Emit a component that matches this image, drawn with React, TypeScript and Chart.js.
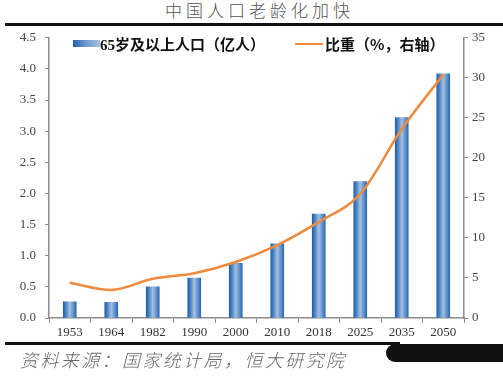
import React, { useEffect, useRef } from "react";
import { Chart, registerables } from "chart.js";

Chart.register(...registerables);

const years = ["1953", "1964", "1982", "1990", "2000", "2010", "2018", "2025", "2035", "2050"];
const population = [0.26, 0.25, 0.5, 0.64, 0.88, 1.19, 1.67, 2.19, 3.22, 3.92];
const share = [4.4, 3.5, 4.9, 5.6, 7.0, 9.1, 12.0, 15.5, 23.6, 30.4];
const title = "中国人口老龄化加快";
const barLabel = "65岁及以上人口（亿人）";
const lineLabel = "比重（%，右轴）";
const source = "资料来源：国家统计局，恒大研究院";

const CANVAS_TOP = 21;
const CANVAS_H = 323;
const BAR_W = 13;

export default function App() {
  const ref = useRef<HTMLCanvasElement | null>(null);

  useEffect(() => {
    if (!ref.current) return;
    const chart = new Chart(ref.current, {
      type: "bar",
      data: {
        labels: years,
        datasets: [
          {
            type: "line",
            label: lineLabel,
            data: share,
            yAxisID: "y1",
            borderColor: "#ee8b3d",
            borderWidth: 2.5,
            pointRadius: 0,
            cubicInterpolationMode: "monotone",
            fill: false,
            order: 0,
          } as any,
          {
            type: "bar",
            label: barLabel,
            data: population,
            yAxisID: "y",
            barThickness: BAR_W,
            order: 1,
            backgroundColor: (ctx: any) => {
              const ch = ctx.chart;
              const xs = ch.scales && ch.scales.x;
              if (!xs || ctx.dataIndex === undefined) return "#3f7bc2";
              const cx = xs.getPixelForValue(ctx.dataIndex);
              if (!Number.isFinite(cx)) return "#3f7bc2";
              const g = ch.ctx.createLinearGradient(cx - BAR_W / 2, 0, cx + BAR_W / 2, 0);
              g.addColorStop(0, "#1f5fae");
              g.addColorStop(0.2, "#4883c5");
              g.addColorStop(0.5, "#a6bfdd");
              g.addColorStop(0.8, "#5a8ecb");
              g.addColorStop(1, "#2a69b4");
              return g;
            },
          } as any,
        ],
      },
      options: {
        animation: false,
        responsive: false,
        maintainAspectRatio: false,
        layout: { padding: { top: 0, left: 0, right: 0, bottom: 0 } },
        plugins: { legend: { display: false }, tooltip: { enabled: false } },
        scales: {
          x: {
            grid: { drawOnChartArea: false, tickLength: 5, color: "#8c8c8c", offset: true },
            border: { color: "#8c8c8c", width: 1.5 },
            ticks: { color: "#333", font: { family: "Liberation Serif", size: 13 }, padding: 2, maxRotation: 0 },
            afterFit: (s: any) => { s.height = CANVAS_TOP + CANVAS_H - 318; },
          },
          y: {
            position: "left",
            min: 0,
            max: 4.5,
            ticks: {
              stepSize: 0.5,
              color: "#444",
              font: { family: "Liberation Serif", size: 13 },
              padding: 9,
              callback: (v: any) => Number(v).toFixed(1),
            },
            grid: { drawOnChartArea: false, tickLength: 4, color: "#8c8c8c" },
            border: { color: "#8c8c8c", width: 1.5 },
            afterFit: (s: any) => { s.width = 49; },
          },
          y1: {
            position: "right",
            min: 0,
            max: 35,
            ticks: {
              stepSize: 5,
              color: "#444",
              font: { family: "Liberation Serif", size: 13 },
              padding: 4,
            },
            grid: { drawOnChartArea: false, tickLength: 4, color: "#8c8c8c" },
            border: { color: "#8c8c8c", width: 1.5 },
            afterFit: (s: any) => { s.width = 503 - 464; },
          },
        },
      } as any,
    });
    return () => chart.destroy();
  }, []);

  const cjk = '"Noto Sans CJK SC", "Noto Sans", sans-serif';

  return (
    <div style={{ position: "absolute", left: 0, top: 0, width: 503, height: 376, background: "#fff", overflow: "hidden" }}>
      <div
        style={{
          position: "absolute", left: 0, width: 503, top: -1, textAlign: "center",
          fontFamily: cjk, fontWeight: 300, fontSize: 17, letterSpacing: 4, color: "#555", lineHeight: "22px",
          paddingLeft: 8,
        }}
      >
        {title}
      </div>
      <div style={{ position: "absolute", left: 5, top: 23, width: 498, height: 3, background: "#111" }} />
      <canvas ref={ref} width={503} height={CANVAS_H} style={{ position: "absolute", left: 0, top: CANVAS_TOP, width: 503, height: CANVAS_H }} />
      {/* legend */}
      <div style={{ position: "absolute", left: 73, top: 40, width: 27, height: 7, background: "linear-gradient(to right, #2362ae, #6f9bd0, #a9c1de)" }} />
      <div style={{ position: "absolute", left: 100, top: 34, fontFamily: cjk, fontWeight: 700, fontSize: 15, lineHeight: "20px", color: "#111", whiteSpace: "nowrap" }}>
        <span style={{ fontFamily: '"Liberation Serif", serif' }}>65</span>{barLabel.slice(2)}
      </div>
      <div style={{ position: "absolute", left: 295, top: 42.5, width: 28, height: 2.5, background: "#ee8b3d" }} />
      <div style={{ position: "absolute", left: 325, top: 34, fontFamily: cjk, fontWeight: 700, fontSize: 15, lineHeight: "20px", color: "#111", whiteSpace: "nowrap" }}>
        {lineLabel}
      </div>
      {/* bottom rule, source */}
      <div style={{ position: "absolute", left: 5, top: 342, width: 395, height: 3, background: "#111" }} />
      <div style={{ position: "absolute", left: 386, top: 344, width: 117, height: 18, background: "#111", borderRadius: "9px 0 0 9px" }} />
      <div
        style={{
          position: "absolute", left: 20, top: 347, fontFamily: cjk, fontStyle: "italic", fontWeight: 300,
          fontSize: 18, letterSpacing: 2.4, color: "#666", lineHeight: "24px", whiteSpace: "nowrap",
        }}
      >
        {source}
      </div>
    </div>
  );
}
